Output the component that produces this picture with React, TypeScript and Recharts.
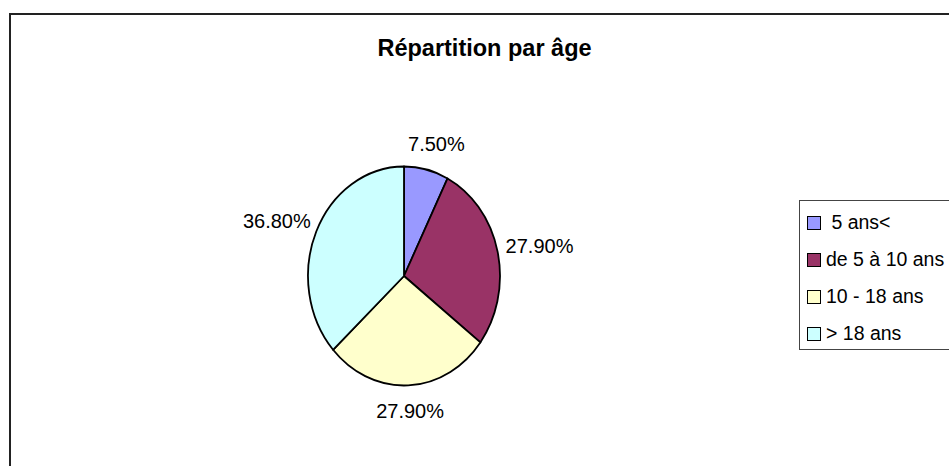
import { Cell, Legend, Pie, PieChart } from 'recharts'

const categories = [' 5 ans<', 'de 5 à 10 ans', '10 - 18 ans', '> 18 ans']
const shares = [7.5, 27.9, 27.9, 36.8]
const COLORS = ['#9999FF', '#993366', '#FFFFCC', '#CCFFFF']

const data = categories.map((name, i) => ({ name, value: shares[i] }))

const RAD = Math.PI / 180
// the original pie is an ellipse, a bit narrower than it is tall
const X_SCALE = 96 / 109.5
const FONT = '"Liberation Sans", Arial, sans-serif'

function EllipseSector(props: any) {
  const { cx, cy, outerRadius, startAngle, endAngle, fill, stroke, strokeWidth } = props
  const rx = outerRadius * X_SCALE
  const ry = outerRadius
  const pt = (a: number) => [cx + rx * Math.cos(a * RAD), cy - ry * Math.sin(a * RAD)]
  const [x1, y1] = pt(startAngle)
  const [x2, y2] = pt(endAngle)
  const large = Math.abs(startAngle - endAngle) > 180 ? 1 : 0
  const sweep = startAngle > endAngle ? 1 : 0
  const d = `M${cx},${cy} L${x1},${y1} A${rx},${ry} 0 ${large} ${sweep} ${x2},${y2} Z`
  return <path d={d} fill={fill} stroke={stroke} strokeWidth={strokeWidth} strokeLinejoin="round" />
}

function renderLabel(props: any) {
  const { cx, cy, midAngle, outerRadius, value } = props
  const dx = Math.cos(midAngle * RAD)
  const dy = -Math.sin(midAngle * RAD)
  const x = cx + (outerRadius * X_SCALE + 43) * dx
  const y = cy + (outerRadius + 26) * dy
  return (
    <text x={x} y={y} textAnchor="middle" dominantBaseline="central" fontSize={20} fontFamily={FONT} fill="#000">
      {`${Number(value).toFixed(2)}%`}
    </text>
  )
}

function renderLegend(props: any) {
  const payload = props.payload || []
  // keep the legend in data order
  const items = categories.map((name) => payload.find((p: any) => p.value === name)).filter(Boolean)
  return (
    <div
      style={{
        width: 170,
        height: 150,
        border: '1.5px solid #444',
        boxSizing: 'border-box',
        paddingTop: 3,
        background: '#fff',
      }}
    >
      {items.map((entry: any, i: number) => (
        <div key={i} style={{ display: 'flex', alignItems: 'center', height: 37, paddingLeft: 7 }}>
          <span
            style={{
              width: 12,
              height: 12,
              background: entry.color,
              border: '1px solid #000',
              marginRight: 5,
              flex: 'none',
            }}
          />
          <span style={{ fontFamily: FONT, fontSize: 19.5, color: '#000', whiteSpace: 'pre' }}>{entry.value}</span>
        </div>
      ))}
    </div>
  )
}

export default function App() {
  return (
    <div style={{ position: 'absolute', left: 0, top: 0, width: 949, height: 466, overflow: 'hidden', background: '#fff' }}>
      <div
        style={{
          position: 'absolute',
          left: 9,
          top: 13,
          width: 1100,
          height: 600,
          borderTop: '2px solid #222',
          borderLeft: '2px solid #222',
        }}
      />
      <div
        style={{
          position: 'absolute',
          left: 0,
          top: 36,
          width: 969,
          textAlign: 'center',
          fontFamily: FONT,
          fontWeight: 'bold',
          fontSize: 23.5,
          lineHeight: '24px',
          color: '#000',
        }}
      >
        Répartition par âge
      </div>
      <div style={{ position: 'absolute', left: 0, top: 0 }}>
        <PieChart width={949} height={466} margin={{ top: 0, right: 0, bottom: 0, left: 0 }}>
          <Pie
            data={data}
            dataKey="value"
            nameKey="name"
            cx={404}
            cy={276}
            outerRadius={109.5}
            startAngle={90}
            endAngle={-270}
            stroke="#000"
            strokeWidth={1.8}
            shape={EllipseSector}
            label={renderLabel}
            labelLine={false}
            isAnimationActive={false}
          >
            {data.map((_d, i) => (
              <Cell key={`cell-${i}`} fill={COLORS[i]} />
            ))}
          </Pie>
          <Legend
            layout="vertical"
            content={renderLegend}
            wrapperStyle={{ position: 'absolute', left: 799, top: 200, width: 170 }}
          />
        </PieChart>
      </div>
    </div>
  )
}
